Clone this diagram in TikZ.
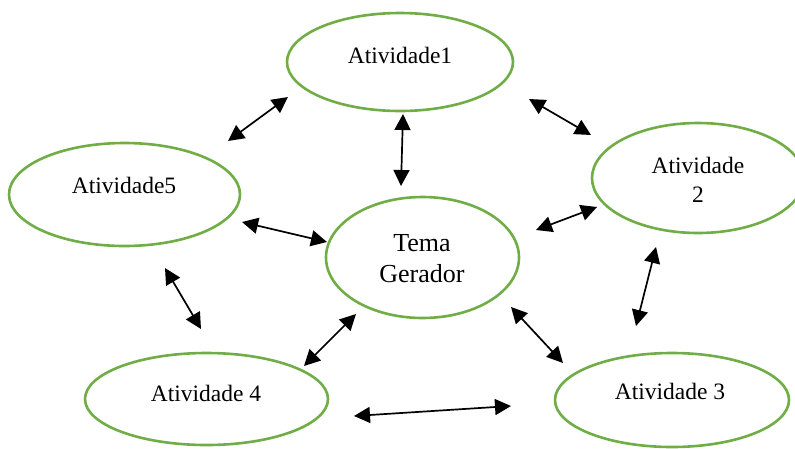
\documentclass[tikz,border=0pt]{standalone}
\usepackage{fontspec}
\setmainfont{Liberation Serif}
\usetikzlibrary{shapes.geometric,arrows.meta}
\definecolor{ogreen}{RGB}{112,173,71}
\tikzset{
  oval/.style={ellipse, draw=ogreen, line width=2.6pt, inner sep=0pt},
  lbl/.style={font=\fontsize{23.5}{29}\selectfont, align=center, inner sep=0pt},
  biarrow/.style={line width=1.7pt, {Triangle[length=16pt,width=16pt]}-{Triangle[length=16pt,width=16pt]}}
}
\begin{document}
\begin{tikzpicture}[x=1pt,y=-1pt]
\useasboundingbox (0,0) rectangle (795,448);
% ellipses
\node[oval, minimum width=226pt, minimum height=98pt] (a1) at (400,62) {};
\node[oval, minimum width=212pt, minimum height=110pt] (a2) at (698,178) {};
\node[oval, minimum width=231pt, minimum height=103pt] (a5) at (124.5,194.5) {};
\node[oval, minimum width=193pt, minimum height=121pt] (tg) at (422.5,257.5) {};
\node[oval, minimum width=243pt, minimum height=92pt] (a4) at (206.5,399) {};
\node[oval, minimum width=234pt, minimum height=94pt] (a3) at (672,400) {};
% texts
\node[lbl] (t1) at (400,55) {Atividade1};
\node[lbl] (t2) at (698,180) {Atividade\\2};
\node[lbl] (t5) at (124,185) {Atividade5};
\node[lbl, font=\fontsize{26}{31}\selectfont] (tt) at (422,259) {Tema\\Gerador};
\node[lbl] (t4) at (206,393) {Atividade 4};
\node[lbl] (t3) at (670,391) {Atividade 3};
% arrow end points
\coordinate (p1) at (288,97);  \coordinate (q1) at (228,141);
\coordinate (p2) at (403,114); \coordinate (q2) at (401,186);
\coordinate (p3) at (529,99);  \coordinate (q3) at (591,135);
\coordinate (p4) at (597,207); \coordinate (q4) at (536,230);
\coordinate (p5) at (242,222); \coordinate (q5) at (327,242);
\coordinate (p6) at (165,268); \coordinate (q6) at (201,329);
\coordinate (p7) at (656,247); \coordinate (q7) at (636,326);
\coordinate (p8) at (356,314); \coordinate (q8) at (304,366);
\coordinate (p9) at (511,307); \coordinate (q9) at (563,363);
\coordinate (p10) at (354,416); \coordinate (q10) at (511,406);
\foreach \i in {1,...,10} \draw[biarrow] (p\i) -- (q\i);
\end{tikzpicture}
\end{document}
